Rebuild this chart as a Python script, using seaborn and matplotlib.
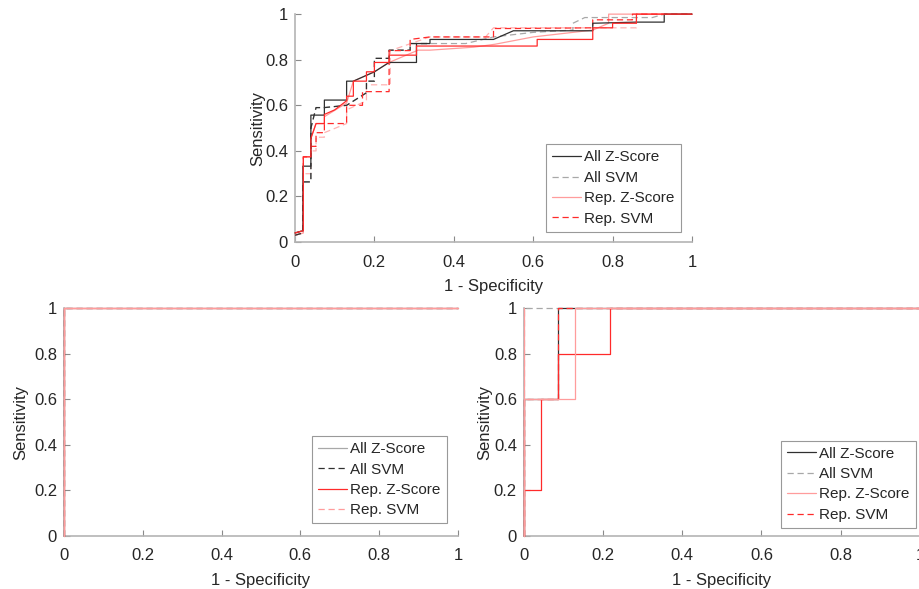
import seaborn as sns
import matplotlib.pyplot as plt
from matplotlib.lines import Line2D
from matplotlib.ticker import FuncFormatter

# ---- top panel ROC curves ----
top_allz_fpr = [0, 0.02, 0.02, 0.04, 0.04, 0.074, 0.074, 0.13, 0.13, 0.147, 0.2, 0.237,
                0.306, 0.306, 0.34, 0.34, 0.5, 0.55, 0.75, 0.75, 0.86, 0.93, 0.93, 1]
top_allz_tpr = [0.04, 0.05, 0.333, 0.333, 0.557, 0.557, 0.623, 0.623, 0.706, 0.706, 0.747, 0.788,
                0.788, 0.871, 0.871, 0.889, 0.889, 0.927, 0.927, 0.96, 0.965, 0.965, 1, 1]

top_allsvm_fpr = [0, 0.02, 0.02, 0.04, 0.04, 0.053, 0.074, 0.13, 0.18, 0.18, 0.2, 0.2, 0.237,
                  0.237, 0.29, 0.29, 0.43, 0.5, 0.6, 0.7, 0.7, 0.73, 0.9, 0.93, 1]
top_allsvm_tpr = [0.03, 0.04, 0.264, 0.264, 0.5, 0.59, 0.59, 0.6, 0.655, 0.706, 0.706, 0.806, 0.806,
                  0.842, 0.842, 0.871, 0.871, 0.9, 0.92, 0.93, 0.96, 0.985, 0.985, 1, 1]

top_darkdash_fpr = [0, 0.02, 0.02, 0.04, 0.04, 0.053, 0.074, 0.13, 0.18, 0.18, 0.2, 0.2, 0.237,
                    0.237, 0.29, 0.29, 0.34]
top_darkdash_tpr = [0.03, 0.04, 0.264, 0.264, 0.5, 0.59, 0.59, 0.6, 0.655, 0.706, 0.706, 0.806, 0.806,
                    0.842, 0.842, 0.871, 0.871]

top_repz_fpr = [0, 0.021, 0.021, 0.04, 0.04, 0.053, 0.074, 0.074, 0.13, 0.147, 0.2, 0.237,
                0.31, 0.34, 0.45, 0.504, 0.6, 0.75, 0.79, 0.79, 1]
top_repz_tpr = [0.03, 0.04, 0.374, 0.374, 0.455, 0.52, 0.52, 0.55, 0.61, 0.706, 0.747, 0.788,
                0.842, 0.842, 0.855, 0.868, 0.9, 0.93, 0.96, 1, 1]

top_redsolid_fpr = [0, 0.021, 0.021, 0.04, 0.04, 0.053, 0.074, 0.074, 0.1, 0.13, 0.13, 0.147,
                    0.147, 0.18, 0.18, 0.2, 0.2, 0.237, 0.237, 0.306, 0.306, 0.466, 0.61, 0.61,
                    0.75, 0.75, 0.8, 0.8, 0.86, 0.86, 1]
top_redsolid_tpr = [0.04, 0.05, 0.374, 0.374, 0.455, 0.52, 0.52, 0.56, 0.58, 0.62, 0.64, 0.64,
                    0.706, 0.706, 0.747, 0.747, 0.788, 0.788, 0.82, 0.82, 0.86, 0.86, 0.86, 0.889,
                    0.889, 0.94, 0.94, 0.96, 0.96, 1, 1]

top_repsvm_fpr = [0, 0.021, 0.021, 0.04, 0.04, 0.053, 0.053, 0.074, 0.074, 0.13, 0.13, 0.17,
                  0.17, 0.237, 0.237, 0.29, 0.29, 0.34, 0.5, 0.5, 0.55, 0.75, 0.75, 0.85, 0.85, 1]
top_repsvm_tpr = [0.04, 0.05, 0.374, 0.374, 0.42, 0.42, 0.48, 0.48, 0.52, 0.52, 0.6, 0.6,
                  0.66, 0.66, 0.84, 0.84, 0.889, 0.9, 0.9, 0.937, 0.937, 0.94, 0.975, 0.975, 1, 1]

top_pinkdash_fpr = [0, 0.021, 0.021, 0.04, 0.04, 0.053, 0.053, 0.074, 0.074, 0.13, 0.13, 0.18,
                    0.18, 0.24, 0.24, 0.34, 0.48, 0.5, 0.86, 0.86, 1]
top_pinkdash_tpr = [0.03, 0.04, 0.3, 0.3, 0.4, 0.4, 0.46, 0.46, 0.48, 0.52, 0.58, 0.62,
                    0.69, 0.69, 0.84, 0.9, 0.9, 0.94, 0.94, 1, 1]

# ---- bottom-left panel: every curve is perfect ----
perfect_fpr = [0, 0, 1]
perfect_tpr = [0, 1, 1]

# ---- bottom-right panel ----
br_allz_fpr = [0, 0, 0.087, 0.087, 1]
br_allz_tpr = [0, 0.6, 0.6, 1, 1]
br_repz_fpr = [0, 0, 0.13, 0.13, 1]
br_repz_tpr = [0, 0.6, 0.6, 1, 1]
br_red_fpr = [0, 0, 0.043, 0.043, 0.087, 0.087, 0.217, 0.217, 1]
br_red_tpr = [0, 0.2, 0.2, 0.6, 0.6, 0.8, 0.8, 1, 1]
br_repsvm_fpr = [0, 0, 0.087, 0.087, 1]
br_repsvm_tpr = [0, 0.6, 0.6, 1, 1]

legend_labels = ['All Z-Score', 'All SVM', 'Rep. Z-Score', 'Rep. SVM']

BLACK = '#303030'
GRAY = '#a8a8a8'
PINK = '#ff9c9c'
RED = '#ff2a2a'
DASH = (0, (5, 3))

sns.set_style('white')
plt.rcParams['font.family'] = ['Liberation Sans', 'DejaVu Sans']

fig = plt.figure(figsize=(9.19, 5.89), dpi=100)
ax_top = fig.add_axes([0.321, 0.589, 0.432, 0.387])
ax_bl = fig.add_axes([0.0696, 0.090, 0.4287, 0.387])
ax_br = fig.add_axes([0.570, 0.090, 0.431, 0.387])


def curve(ax, fpr, tpr, color, ls='-'):
    sns.lineplot(x=fpr, y=tpr, ax=ax, sort=False, estimator=None, color=color,
                 linestyle=ls, linewidth=0.9, legend=False, clip_on=False, zorder=3)


def style_axes(ax, handles, anchor, ylabelpad=1):
    ax.set_xlim(0, 1)
    ax.set_ylim(0, 1)
    ticks = [0, 0.2, 0.4, 0.6, 0.8, 1]
    ax.set_xticks(ticks)
    ax.set_yticks(ticks)
    fmt = FuncFormatter(lambda v, p: f'{v:g}')
    ax.xaxis.set_major_formatter(fmt)
    ax.yaxis.set_major_formatter(fmt)
    for s in ['top', 'right']:
        ax.spines[s].set_visible(False)
    for s in ['left', 'bottom']:
        ax.spines[s].set_color('#b4b4b4')
        ax.spines[s].set_linewidth(1.2)
        ax.spines[s].set_zorder(1)
    ax.tick_params(direction='in', length=4, width=0.8, color='#8a8a8a',
                   labelsize=12, labelcolor='#262626', bottom=True, left=True)
    ax.tick_params(axis='x', pad=9)
    ax.tick_params(axis='y', pad=5)
    ax.set_xlabel('1 - Specificity', fontsize=12, color='#262626', labelpad=7)
    ax.set_ylabel('Sensitivity', fontsize=12, color='#262626', labelpad=ylabelpad)
    leg = ax.legend(handles=handles, labels=legend_labels, loc='lower right',
                    bbox_to_anchor=anchor, fontsize=11, frameon=True, fancybox=False,
                    framealpha=1, edgecolor='#999999', handlelength=1.9,
                    handletextpad=0.2, borderpad=0.4, labelspacing=0.42,
                    borderaxespad=0)
    leg.get_frame().set_linewidth(0.8)
    leg.set_zorder(5)
    for t in leg.get_texts():
        t.set_color('#262626')


def h(color, ls='-'):
    return Line2D([], [], color=color, linestyle=ls, linewidth=0.9)


# top panel
curve(ax_top, top_pinkdash_fpr, top_pinkdash_tpr, '#ffb3b3', DASH)
curve(ax_top, top_allsvm_fpr, top_allsvm_tpr, GRAY, DASH)
curve(ax_top, top_repz_fpr, top_repz_tpr, PINK)
curve(ax_top, top_darkdash_fpr, top_darkdash_tpr, BLACK, DASH)
curve(ax_top, top_repsvm_fpr, top_repsvm_tpr, RED, DASH)
curve(ax_top, top_allz_fpr, top_allz_tpr, BLACK)
curve(ax_top, top_redsolid_fpr, top_redsolid_tpr, RED)
style_axes(ax_top, [h(BLACK), h(GRAY, DASH), h(PINK), h(RED, DASH)], (0.972, 0.045), ylabelpad=0)

# bottom-left panel
curve(ax_bl, perfect_fpr, perfect_tpr, GRAY)
curve(ax_bl, perfect_fpr, perfect_tpr, BLACK, DASH)
curve(ax_bl, perfect_fpr, perfect_tpr, RED)
curve(ax_bl, perfect_fpr, perfect_tpr, PINK)
style_axes(ax_bl, [h(GRAY), h(BLACK, DASH), h(RED), h(PINK, DASH)], (0.972, 0.055), ylabelpad=4)

# bottom-right panel
curve(ax_br, perfect_fpr, perfect_tpr, GRAY, DASH)
curve(ax_br, br_allz_fpr, br_allz_tpr, BLACK)
curve(ax_br, br_repsvm_fpr, br_repsvm_tpr, RED, DASH)
curve(ax_br, br_red_fpr, br_red_tpr, RED)
curve(ax_br, br_repz_fpr, br_repz_tpr, PINK)
curve(ax_br, [0, 0], [0, 1], PINK)
style_axes(ax_br, [h(BLACK), h(GRAY, DASH), h(PINK), h(RED, DASH)], (0.99, 0.035), ylabelpad=1)

fig.savefig('out.png', dpi=100)
